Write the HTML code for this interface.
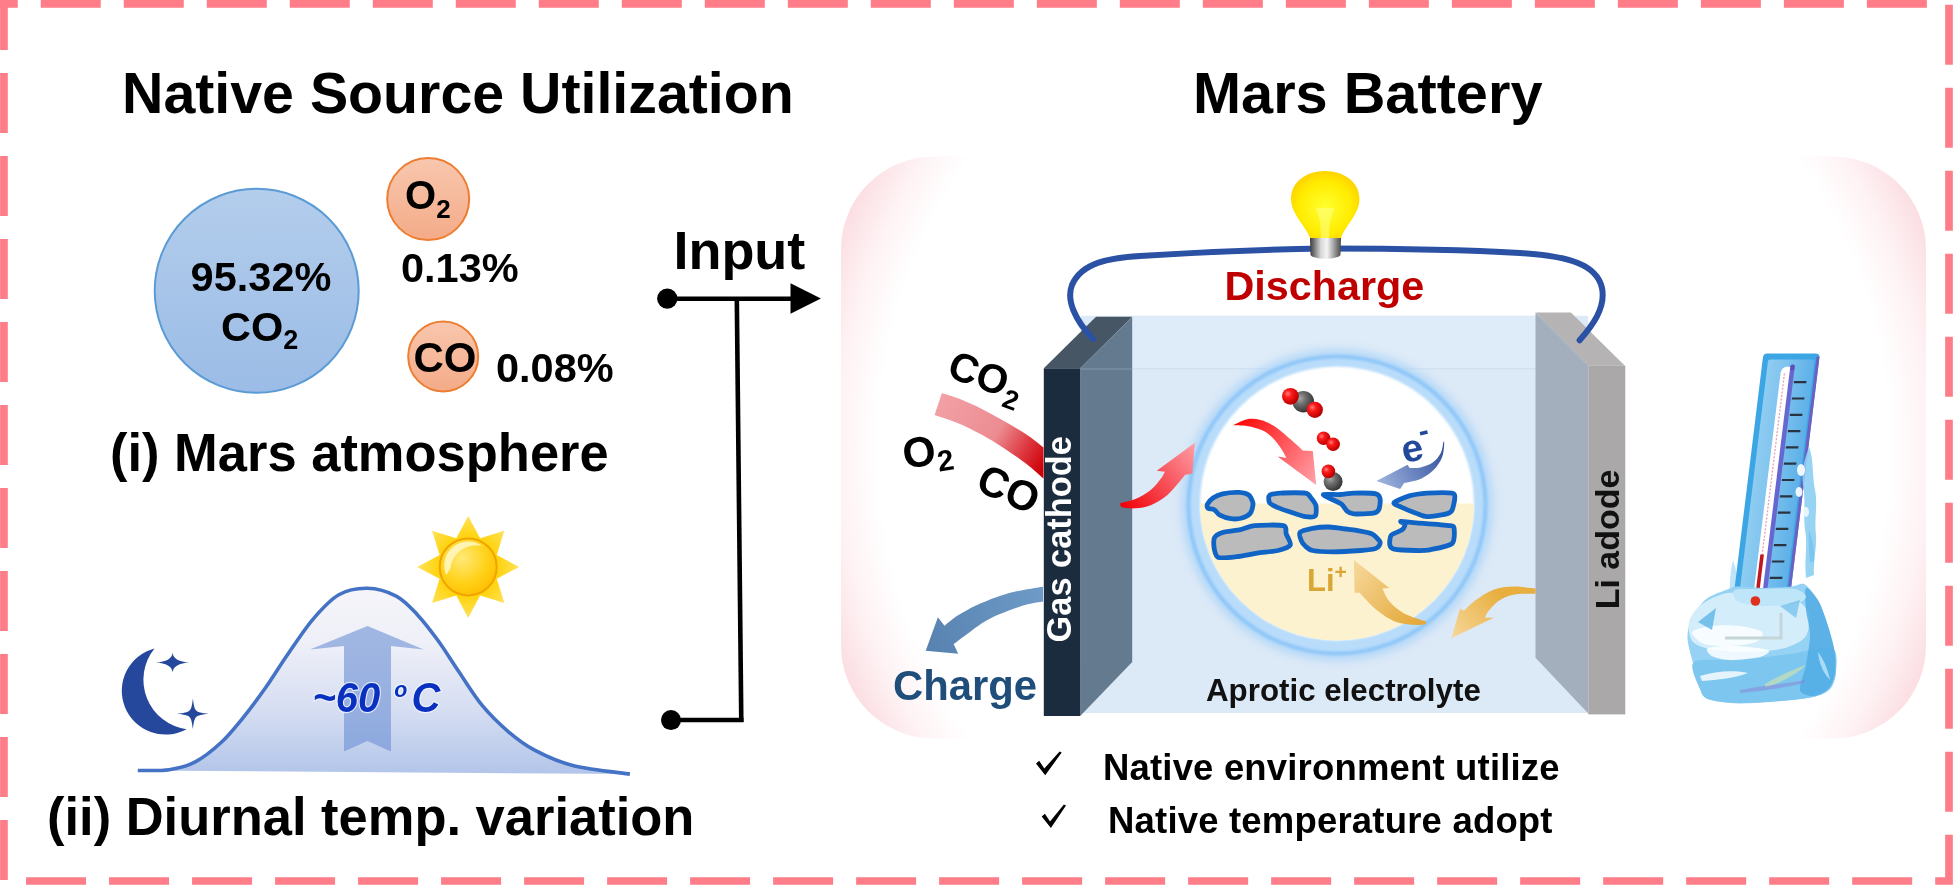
<!DOCTYPE html>
<html><head><meta charset="utf-8">
<style>
html,body{margin:0;padding:0;background:#fff;width:1954px;height:886px;overflow:hidden}
svg{display:block;will-change:transform}
text{font-family:"Liberation Sans",sans-serif;font-weight:bold}
</style></head>
<body>
<svg width="1954" height="886" viewBox="0 0 1954 886">
<defs>
  <linearGradient id="gBlue" x1="0" y1="0" x2="0" y2="1">
    <stop offset="0" stop-color="#B3CDEC"/><stop offset="1" stop-color="#9BBCE6"/>
  </linearGradient>
  <linearGradient id="gOr" x1="0" y1="0" x2="0" y2="1">
    <stop offset="0" stop-color="#F8C7AE"/><stop offset="1" stop-color="#F4AB88"/>
  </linearGradient>
  <linearGradient id="gBell" x1="0" y1="0" x2="0" y2="1">
    <stop offset="0" stop-color="#F6F5FA"/><stop offset="0.3" stop-color="#EEEFF8"/><stop offset="0.65" stop-color="#D6DEF2"/><stop offset="1" stop-color="#B2C5E9"/>
  </linearGradient>
  <filter id="blurPanel" x="-20%" y="-20%" width="140%" height="140%"><feGaussianBlur stdDeviation="22"/></filter>
  <clipPath id="panelClip"><rect x="841" y="156.5" width="1085" height="582" rx="95"/></clipPath>
  <radialGradient id="gSun" cx="0.4" cy="0.35" r="0.7">
    <stop offset="0" stop-color="#FFE978"/><stop offset="0.6" stop-color="#FFD21A"/><stop offset="1" stop-color="#FFBE00"/>
  </radialGradient>
  <radialGradient id="gRay" cx="0.5" cy="0.5" r="0.5">
    <stop offset="0.5" stop-color="#FFD000"/><stop offset="1" stop-color="#FFE25A"/>
  </radialGradient>
  <linearGradient id="gCO2band" x1="935" y1="400" x2="1045" y2="465" gradientUnits="userSpaceOnUse">
    <stop offset="0" stop-color="#F2A2A6"/><stop offset="0.55" stop-color="#EC8C92"/><stop offset="0.8" stop-color="#DE3840"/><stop offset="1" stop-color="#CC0006"/>
  </linearGradient>
  <linearGradient id="gRedArr" x1="0" y1="0" x2="1" y2="0">
    <stop offset="0" stop-color="#F00010"/><stop offset="1" stop-color="#FF9AA0"/>
  </linearGradient>
  <linearGradient id="gRedArr2" x1="1230" y1="425" x2="1316" y2="482" gradientUnits="userSpaceOnUse">
    <stop offset="0" stop-color="#FF0000"/><stop offset="1" stop-color="#FFA0A8"/>
  </linearGradient>
  <linearGradient id="gRedArr1" x1="1120" y1="505" x2="1196" y2="443" gradientUnits="userSpaceOnUse">
    <stop offset="0" stop-color="#F00008"/><stop offset="1" stop-color="#FFA0A8"/>
  </linearGradient>
  <linearGradient id="gBlueArr" x1="1444" y1="443" x2="1377" y2="481" gradientUnits="userSpaceOnUse">
    <stop offset="0" stop-color="#2F4E9C"/><stop offset="1" stop-color="#9FB4DE"/>
  </linearGradient>
  <linearGradient id="gCharge" x1="1043" y1="595" x2="925" y2="650" gradientUnits="userSpaceOnUse">
    <stop offset="0" stop-color="#6E9AC8"/><stop offset="1" stop-color="#5782B0"/>
  </linearGradient>
  <linearGradient id="gGold1" x1="1422" y1="618" x2="1357" y2="561" gradientUnits="userSpaceOnUse">
    <stop offset="0" stop-color="#E4A93A"/><stop offset="1" stop-color="#F6D79A"/>
  </linearGradient>
  <linearGradient id="gGold2" x1="1500" y1="593" x2="1451" y2="636" gradientUnits="userSpaceOnUse">
    <stop offset="0" stop-color="#E8AE3E"/><stop offset="1" stop-color="#F6D79A"/>
  </linearGradient>
  <radialGradient id="gRedBall" cx="0.35" cy="0.35" r="0.65">
    <stop offset="0" stop-color="#FF8080"/><stop offset="0.35" stop-color="#FF1A1A"/><stop offset="1" stop-color="#B80000"/>
  </radialGradient>
  <radialGradient id="gGreyBall" cx="0.35" cy="0.35" r="0.65">
    <stop offset="0" stop-color="#A8A8A8"/><stop offset="0.4" stop-color="#707070"/><stop offset="1" stop-color="#383838"/>
  </radialGradient>
  <radialGradient id="gBulb" cx="0.5" cy="0.55" r="0.55">
    <stop offset="0" stop-color="#FFFF30"/><stop offset="0.7" stop-color="#FFEC00"/><stop offset="1" stop-color="#FFD400"/>
  </radialGradient>
  <linearGradient id="gBase" x1="0" y1="0" x2="1" y2="0">
    <stop offset="0" stop-color="#3A3A3A"/><stop offset="0.35" stop-color="#D8D8D8"/><stop offset="0.55" stop-color="#F4F4F4"/><stop offset="1" stop-color="#4A4A4A"/>
  </linearGradient>
  <filter id="ringGlow" x="-20%" y="-20%" width="140%" height="140%"><feGaussianBlur stdDeviation="4"/></filter>
  <filter id="soft1" x="-20%" y="-20%" width="140%" height="140%"><feGaussianBlur stdDeviation="1"/></filter>
  <clipPath id="innerCirc"><circle cx="1337" cy="503.5" r="137"/></clipPath>
  <linearGradient id="gIce" x1="0" y1="0" x2="0" y2="1">
    <stop offset="0" stop-color="#B6E0F8"/><stop offset="0.5" stop-color="#A2D8F5"/><stop offset="1" stop-color="#7CC4EE"/>
  </linearGradient>
  <linearGradient id="gBoard" x1="0" y1="0" x2="1" y2="0">
    <stop offset="0" stop-color="#8FCCF1"/><stop offset="0.45" stop-color="#7CC2EE"/><stop offset="1" stop-color="#5DB0E8"/>
  </linearGradient>
  <radialGradient id="gPanel" gradientUnits="userSpaceOnUse" cx="1383.5" cy="447.5" r="620">
    <stop offset="0.815" stop-color="#FFFFFF"/><stop offset="0.88" stop-color="#FEF2F4"/><stop offset="0.935" stop-color="#FBE0E4"/><stop offset="1" stop-color="#F8CDD4"/>
  </radialGradient>
</defs>

<!-- dashed border -->
<rect x="3.95" y="3.85" width="1945.05" height="877.15" fill="none" stroke="#FF7D89" stroke-width="7.7" stroke-dasharray="60 23.006" stroke-dashoffset="46.2"/>
<rect x="0" y="0" width="8" height="8" fill="#FF7D89"/>

<!-- titles -->
<text x="122" y="113.3" font-size="57.3">Native Source Utilization</text>
<text x="1193" y="113.2" font-size="57.7">Mars Battery</text>

<!-- atmosphere circles -->
<circle cx="256.7" cy="290.8" r="102" fill="url(#gBlue)" stroke="#5B9BD5" stroke-width="2"/>
<text x="261" y="291.4" font-size="41.5" text-anchor="middle">95.32%</text>
<text x="221" y="341" font-size="41.5">CO<tspan font-size="27" dy="8">2</tspan></text>

<circle cx="428.2" cy="199.1" r="41" fill="url(#gOr)" stroke="#ED7D31" stroke-width="2"/>
<text x="405" y="209" font-size="40">O<tspan font-size="26" dy="9">2</tspan></text>
<text x="401" y="282.2" font-size="41.5">0.13%</text>

<circle cx="443.2" cy="356.4" r="35" fill="url(#gOr)" stroke="#ED7D31" stroke-width="2"/>
<text x="413.5" y="371.5" font-size="42">CO</text>
<text x="496" y="381.5" font-size="41.5">0.08%</text>

<text transform="translate(110,471.2) scale(1,1.035)" font-size="52.5">(i) Mars atmosphere</text>
<text transform="translate(47,835) scale(1,1.035)" font-size="52.5">(ii) Diurnal temp. variation</text>


<!-- diurnal chart -->
<path d="M137.8,770.5 C143.0,770.4 159.6,771.1 169.2,769.7 C178.8,768.3 186.6,766.5 195.3,761.9 C204.0,757.3 213.6,749.5 221.4,742.3 C229.2,735.1 234.8,727.9 242.2,718.8 C249.6,709.7 258.3,698.0 265.7,687.5 C273.1,677.0 278.8,667.4 286.6,656.1 C294.4,644.8 304.0,629.8 312.7,619.6 C321.4,609.4 329.7,600.0 338.8,594.8 C347.9,589.6 357.9,588.1 367.5,588.3 C377.1,588.5 387.9,591.8 396.2,596.1 C404.5,600.5 410.1,607.0 417.1,614.4 C424.1,621.8 431.0,630.9 438.0,640.5 C445.0,650.1 451.5,660.9 458.9,671.8 C466.3,682.7 474.1,695.7 482.4,705.7 C490.7,715.7 499.8,724.4 508.5,731.8 C517.2,739.2 523.7,744.4 534.6,750.1 C545.5,755.8 557.8,761.8 573.7,765.8 C589.6,769.8 620.5,772.7 629.9,774.1 Z" fill="url(#gBell)"/>
<path d="M137.8,770.5 C143.0,770.4 159.6,771.1 169.2,769.7 C178.8,768.3 186.6,766.5 195.3,761.9 C204.0,757.3 213.6,749.5 221.4,742.3 C229.2,735.1 234.8,727.9 242.2,718.8 C249.6,709.7 258.3,698.0 265.7,687.5 C273.1,677.0 278.8,667.4 286.6,656.1 C294.4,644.8 304.0,629.8 312.7,619.6 C321.4,609.4 329.7,600.0 338.8,594.8 C347.9,589.6 357.9,588.1 367.5,588.3 C377.1,588.5 387.9,591.8 396.2,596.1 C404.5,600.5 410.1,607.0 417.1,614.4 C424.1,621.8 431.0,630.9 438.0,640.5 C445.0,650.1 451.5,660.9 458.9,671.8 C466.3,682.7 474.1,695.7 482.4,705.7 C490.7,715.7 499.8,724.4 508.5,731.8 C517.2,739.2 523.7,744.4 534.6,750.1 C545.5,755.8 557.8,761.8 573.7,765.8 C589.6,769.8 620.5,772.7 629.9,774.1" fill="none" stroke="#4472C4" stroke-width="3.6"/>
<path d="M367.5,626 L423.7,649.5 L391,646 L391,751.4 L367.5,741 L344,751.4 L344,646 L310,649.5 Z" fill="#6B8FD4" fill-opacity="0.6"/>
<text transform="translate(312.5,711.5) scale(0.93,1)" font-size="43" font-style="italic" fill="#0A30C0" stroke="#F2F6FF" stroke-width="2.4" stroke-opacity="0.8" paint-order="stroke">~60 <tspan font-size="23" dy="-15" dx="3">o</tspan><tspan dy="15" dx="4.5">C</tspan></text>
<!-- moon & stars -->
<path d="M154.5,648.4 A43.8,43.8 0 1 0 186.6,729.2 A49.9,49.9 0 0 1 154.5,648.4 Z" fill="#26489C"/>
<path d="M172.60,652.70 Q173.50,661.60 189.80,662.50 Q173.50,663.40 172.60,672.30 Q171.70,663.40 155.40,662.50 Q171.70,661.60 172.60,652.70 Z" fill="#26489C"/>
<path d="M192.90,698.40 C194.70,711.90 194.70,711.90 208.90,713.70 C194.70,715.50 194.70,715.50 192.90,729.00 C191.10,715.50 191.10,715.50 176.90,713.70 C191.10,711.90 191.10,711.90 192.90,698.40 Z" fill="#26489C"/>
<!-- sun -->
<g transform="translate(468.2,566.9)">
  <path fill="url(#gRay)" d="M0.0,-51.0 L11.9,-28.6 L36.1,-36.1 L28.6,-11.9 L51.0,0.0 L28.6,11.9 L36.1,36.1 L11.9,28.6 L0.0,51.0 L-11.9,28.6 L-36.1,36.1 L-28.6,11.9 L-51.0,0.0 L-28.6,-11.9 L-36.1,-36.1 L-11.9,-28.6 Z"/>
  <circle r="28.5" fill="url(#gSun)" stroke="#F0A400" stroke-width="2"/>
  <path d="M-22,8 A24,24 0 0 1 14,-21 A26,26 0 0 0 -18,2 Z" fill="#FFF6C0" opacity="0.9"/>
</g>


<!-- right panel -->
<rect x="841" y="156.5" width="1085" height="582" rx="93" fill="url(#gPanel)"/>

<text x="1224.5" y="300" font-size="41.3" fill="#C00000">Discharge</text>

<!-- electrolyte box -->
<rect x="1081" y="315.8" width="507" height="397.2" fill="#DCE9F7"/>
<rect x="1132" y="315.8" width="404" height="53" fill="#DEEBF8"/>
<line x1="1132" y1="368.8" x2="1536" y2="368.8" stroke="#CCDDF0" stroke-width="1"/>

<!-- left electrode -->
<polygon points="1043.8,368.3 1080.2,368.3 1132.2,316.7 1096,316.7" fill="#475665"/>
<polygon points="1080.2,368.3 1132.2,316.7 1132.2,662 1080.2,716" fill="#647A8F"/>
<line x1="1080.2" y1="369" x2="1132.2" y2="369" stroke="#8298AC" stroke-width="1.2"/>
<rect x="1043.8" y="368.3" width="36.4" height="347.7" fill="#1B2C3E"/>
<text transform="translate(1071.3,642.5) rotate(-90)" font-size="34.4" fill="#fff">Gas cathode</text>

<!-- right electrode -->
<polygon points="1535.5,312.6 1570.9,312.6 1624.9,365.7 1588.3,365.7" fill="#B5B3B4"/>
<polygon points="1535.5,312.6 1588.3,365.7 1588.3,713.5 1535.5,657.7" fill="#A3AFBC"/>
<rect x="1588.3" y="365.7" width="37" height="348.7" fill="#AAA8A9"/>
<text transform="translate(1618.8,609.3) rotate(-90)" font-size="34" fill="#111">Li adode</text>
<!-- wire -->
<path d="M1093,339 C1075,320 1066,300 1072,285 C1082,262 1110,258 1140,256 C1200,252 1260,249.5 1325,248.5 C1400,248.5 1470,250 1520,253 C1570,256 1597,265 1602,288 C1606,308 1592,326 1579.6,340.3" fill="none" stroke="#2B51A4" stroke-width="6" stroke-linecap="round"/>

<!-- bulb -->
<path d="M1310,238 C1306,226 1291,214 1291,199 C1291,182 1306,171 1325,171 C1344,171 1359.5,182 1359.5,199 C1359.5,214 1345,226 1341,238 Z" fill="url(#gBulb)"/>
<path d="M1316,208 L1334,208 L1330,222 L1329,238 L1321,238 L1320,222 Z" fill="#FFFF80" opacity="0.6"/>
<path d="M1310,238 L1341,238 L1340.5,255 C1337,260 1314,260 1310.5,255 Z" fill="url(#gBase)"/>



<!-- zoom circle -->
<circle cx="1337" cy="505" r="156" fill="#B4D8F8" filter="url(#ringGlow)"/>
<circle cx="1337" cy="505" r="150.5" fill="#90C7F8" filter="url(#soft1)"/>
<circle cx="1337" cy="505" r="146.5" fill="#B8DCFA" filter="url(#soft1)"/>
<circle cx="1337" cy="503.5" r="137" fill="#fff" filter="url(#soft1)"/>
<rect x="1199" y="503.5" width="300" height="160" fill="#FDF2CF" clip-path="url(#innerCirc)"/>
<!-- inside circle content -->
<g fill="#BBBBBB" stroke="#1064C6" stroke-width="4.8" stroke-linejoin="round">
<path d="M1207.4,504.2 C1208.0,502.9 1211.1,499.3 1213.0,498.0 C1214.9,496.7 1219.3,494.5 1222.6,493.8 C1225.9,493.1 1235.9,492.2 1239.2,492.4 C1242.5,492.6 1247.2,493.8 1248.9,495.2 C1250.6,496.6 1252.8,501.2 1253.0,503.5 C1253.2,505.8 1251.7,511.4 1250.3,513.2 C1248.9,515.0 1244.4,517.3 1242.0,518.0 C1239.6,518.7 1233.7,519.1 1230.9,518.7 C1228.1,518.4 1222.0,516.3 1219.9,515.2 C1217.8,514.1 1215.8,510.6 1214.3,509.7 C1212.8,508.8 1209.0,509.0 1208.1,508.3 C1207.2,507.6 1206.8,505.5 1207.4,504.2 Z"/>
<path d="M1269.6,495.2 C1271.0,494.0 1276.2,493.4 1280.7,493.1 C1285.2,492.8 1301.7,492.5 1305.5,493.1 C1309.3,493.7 1309.8,496.4 1311.1,498.0 C1312.4,499.6 1315.4,503.4 1315.9,505.6 C1316.4,507.8 1316.5,514.5 1315.2,515.9 C1313.9,517.3 1308.4,517.0 1305.5,516.6 C1302.6,516.2 1295.2,513.6 1291.7,512.5 C1288.2,511.4 1280.7,508.8 1277.9,507.6 C1275.1,506.4 1270.6,504.4 1269.6,502.8 C1268.6,501.2 1268.2,496.4 1269.6,495.2 Z"/>
<path d="M1323.5,494.5 C1324.7,494.0 1336.3,494.7 1340.1,494.5 C1343.9,494.3 1349.4,493.2 1353.9,493.1 C1358.4,493.0 1372.7,493.0 1376.0,493.8 C1379.3,494.6 1379.9,497.3 1380.2,499.3 C1380.5,501.3 1379.7,508.0 1378.8,509.7 C1377.9,511.4 1376.4,512.7 1373.3,513.2 C1370.2,513.7 1357.2,514.2 1353.9,513.9 C1350.6,513.6 1348.5,512.3 1347.0,511.1 C1345.5,509.9 1343.6,505.8 1341.5,504.2 C1339.4,502.6 1332.7,499.9 1330.4,498.7 C1328.2,497.5 1322.3,495.0 1323.5,494.5 Z"/>
<path d="M1394.0,502.8 C1394.9,501.3 1405.1,497.1 1409.2,495.9 C1413.3,494.7 1421.8,493.5 1427.1,493.1 C1432.4,492.8 1448.5,492.5 1452.0,493.1 C1455.5,493.7 1454.8,495.8 1454.8,498.0 C1454.8,500.2 1453.0,508.4 1452.0,510.4 C1451.0,512.4 1449.6,513.1 1446.5,513.9 C1443.4,514.7 1430.9,516.7 1427.1,516.6 C1423.3,516.5 1419.2,514.3 1416.1,513.2 C1413.0,512.1 1405.1,508.9 1402.3,507.6 C1399.5,506.3 1393.1,504.3 1394.0,502.8 Z"/>
<path d="M1214.3,538.0 C1215.3,535.9 1219.3,533.5 1222.6,532.5 C1225.9,531.5 1236.6,530.6 1240.6,529.7 C1244.6,528.8 1249.1,526.1 1254.4,525.6 C1259.8,525.1 1279.4,524.6 1283.4,525.6 C1287.4,526.6 1285.3,531.5 1286.2,533.9 C1287.1,536.3 1291.3,542.8 1290.3,544.9 C1289.3,547.0 1282.0,549.5 1277.9,550.5 C1273.8,551.5 1262.4,552.4 1257.2,553.2 C1252.0,554.0 1241.3,556.2 1236.5,556.7 C1231.7,557.2 1221.3,558.4 1218.5,557.4 C1215.7,556.4 1214.8,551.5 1214.3,549.1 C1213.8,546.7 1213.3,540.1 1214.3,538.0 Z"/>
<path d="M1300.0,532.5 C1301.4,531.0 1308.9,529.1 1312.5,528.4 C1316.1,527.7 1324.7,526.9 1329.0,527.0 C1333.3,527.1 1343.5,528.7 1347.0,529.1 C1350.5,529.5 1353.6,529.8 1356.7,530.4 C1359.8,531.0 1369.0,532.4 1371.9,533.9 C1374.8,535.4 1379.7,540.4 1380.2,542.2 C1380.7,544.0 1378.4,547.4 1376.0,548.4 C1373.6,549.4 1366.1,550.1 1360.8,550.5 C1355.5,550.9 1339.2,551.9 1333.2,551.9 C1327.2,551.9 1316.0,551.2 1312.5,550.5 C1309.0,549.8 1306.9,547.5 1305.5,546.3 C1304.1,545.1 1302.1,542.5 1301.4,540.8 C1300.7,539.1 1298.6,534.0 1300.0,532.5 Z"/>
<path d="M1400.9,521.5 C1399.5,521.7 1404.8,523.2 1405.0,524.2 C1405.2,525.2 1404.0,528.3 1402.3,529.7 C1400.6,531.1 1392.8,533.4 1391.2,535.3 C1389.6,537.2 1389.5,543.2 1389.8,544.9 C1390.1,546.6 1390.7,548.4 1394.0,549.1 C1397.3,549.8 1411.6,550.4 1416.1,550.5 C1420.6,550.6 1425.4,550.7 1429.9,549.8 C1434.4,548.9 1449.0,546.3 1452.0,543.6 C1455.0,540.9 1454.4,530.6 1454.1,528.4 C1453.8,526.1 1454.0,526.3 1449.2,525.6 C1444.5,524.9 1422.1,523.3 1416.1,522.8 C1410.1,522.3 1402.3,521.3 1400.9,521.5 Z"/>
</g>
<path d="M1232.9,425.4 C1235.3,424.4 1242.5,420.2 1247.1,419.3 C1251.7,418.4 1256.1,418.9 1260.6,420.0 C1265.1,421.1 1269.7,423.3 1274.2,426.1 C1278.7,428.9 1283.6,433.5 1287.7,436.9 C1291.8,440.3 1296.1,444.1 1298.6,446.4 C1301.1,448.6 1301.9,449.7 1302.6,450.4 L1312.8,451.1 L1316.2,485.0 L1277.6,456.5 L1286.4,457.9 L1286.4,457.9 C1285.7,456.6 1284.3,453.4 1282.3,450.4 C1280.3,447.3 1277.1,442.8 1274.2,439.6 C1271.3,436.5 1268.5,433.6 1264.7,431.5 C1260.9,429.4 1255.3,427.7 1251.2,426.7 C1247.1,425.7 1243.3,425.6 1240.3,425.4 C1237.2,425.2 1234.1,425.4 1232.9,425.4 Z" fill="url(#gRedArr2)"/>
<path d="M1443.5,441.6 C1443.0,443.5 1442.6,449.6 1440.8,453.1 C1439.0,456.6 1436.1,460.2 1432.7,462.6 C1429.3,465.0 1424.3,466.5 1420.5,467.4 C1416.7,468.3 1411.4,467.9 1409.6,468.0 L1407.6,464.7 L1376.4,480.9 L1400.1,489.0 L1404.2,482.9 L1404.2,482.9 C1406.9,482.2 1415.5,481.1 1420.5,478.9 C1425.5,476.6 1430.4,473.0 1434.0,469.4 C1437.6,465.8 1440.4,461.5 1442.1,457.2 C1443.8,452.9 1444.0,446.3 1444.2,443.7 C1444.4,441.1 1443.6,442.0 1443.5,441.6 Z" fill="url(#gBlueArr)"/>
<path d="M1353.9,559.9 L1389.3,587.9 L1382.5,588.5 L1382.5,588.5 C1383.4,590.4 1385.7,596.4 1388.1,599.7 C1390.5,603.0 1393.3,605.7 1396.8,608.4 C1400.3,611.1 1404.3,613.6 1409.2,615.8 C1414.1,618.0 1423.2,620.5 1426.0,621.4 L1426.0,621.4 C1425.7,621.9 1426.9,624.0 1424.1,624.5 C1421.3,625.0 1414.4,625.1 1409.2,624.5 C1404.0,623.9 1398.1,622.9 1393.1,620.8 C1388.1,618.7 1383.3,615.0 1379.4,612.1 C1375.5,609.2 1372.8,606.6 1369.5,603.4 C1366.2,600.2 1361.2,594.6 1359.5,592.8 L1354.6,592.8 Z" fill="url(#gGold1)"/>
<!-- molecules -->
<circle cx="1303.3" cy="401.7" r="10.8" fill="url(#gGreyBall)"/>
<circle cx="1290.4" cy="396.3" r="8.4" fill="url(#gRedBall)"/>
<circle cx="1314.8" cy="409.8" r="8.1" fill="url(#gRedBall)"/>
<circle cx="1323.6" cy="438.2" r="6.8" fill="url(#gRedBall)"/>
<circle cx="1333.1" cy="444.3" r="6.8" fill="url(#gRedBall)"/>
<circle cx="1333.1" cy="481.6" r="9.5" fill="url(#gGreyBall)"/>
<circle cx="1328.4" cy="471.4" r="6.8" fill="url(#gRedBall)"/>
<text transform="translate(1404.3,463.3) rotate(-12)" font-size="38.5" fill="#22489A">e<tspan font-size="30" dy="-18" dx="-1">-</tspan></text>
<text x="1307" y="591" font-size="31" fill="#D9A535">Li<tspan font-size="21" dy="-12">+</tspan></text>

<path d="M1451.4,638.2 L1460.1,608.4 L1463.8,610.8 L1463.8,610.8 C1465.9,608.9 1471.2,603.2 1476.2,599.7 C1481.2,596.2 1487.4,591.9 1493.6,589.7 C1499.8,587.5 1506.5,586.8 1513.5,586.6 C1520.5,586.4 1531.8,588.2 1535.5,588.5 L1535.5,593.8 L1535.5,593.8 C1531.8,593.9 1519.7,593.5 1513.5,594.7 C1507.3,595.9 1502.7,598.2 1498.6,600.9 C1494.5,603.6 1491.0,608.0 1488.7,610.8 C1486.4,613.6 1485.5,616.6 1484.9,617.7 L1493.6,617.7 Z" fill="url(#gGold2)"/>
<path d="M1120.2,503.2 C1122.7,502.5 1130.3,501.3 1135.4,499.1 C1140.5,496.9 1146.5,493.4 1150.7,490.0 C1154.9,486.6 1158.4,481.9 1160.8,478.8 C1163.2,475.8 1164.2,472.9 1164.9,471.7 L1156.7,470.7 L1194.9,442.7 L1192.3,473.7 L1185.2,474.7 L1185.2,474.7 C1183.5,476.7 1178.4,483.2 1175.0,486.9 C1171.6,490.6 1169.0,494.1 1164.9,497.1 C1160.9,500.2 1155.6,503.3 1150.7,505.2 C1145.8,507.1 1140.2,508.0 1135.4,508.3 C1130.7,508.6 1124.7,508.1 1122.2,507.2 C1119.7,506.3 1120.5,503.9 1120.2,503.2 Z" fill="url(#gRedArr1)"/>
<text x="1206" y="700.5" font-size="31.3" fill="#111">Aprotic electrolyte</text>

<!-- left of battery -->
<path d="M941.9,392.9 L941.9,392.9 C944.7,393.8 952.2,395.9 958.8,398.5 C965.4,401.1 973.9,404.9 981.4,408.7 C988.9,412.5 996.5,416.8 1004.0,421.1 C1011.5,425.4 1019.9,430.2 1026.5,434.6 C1033.1,439.0 1040.7,445.4 1043.5,447.6 L1043.5,478.6 L1043.5,478.6 C1040.7,476.2 1033.1,469.1 1026.5,464.0 C1019.9,458.9 1011.5,453.1 1004.0,448.2 C996.5,443.3 988.9,438.7 981.4,434.6 C973.9,430.5 966.6,426.7 958.8,423.4 C951.0,420.1 938.6,416.3 934.6,414.9 Z" fill="url(#gCO2band)"/>
<path d="M1043.0,586.7 C1038.6,587.5 1024.4,589.5 1016.6,591.3 C1008.8,593.1 1003.1,594.9 996.3,597.3 C989.5,599.7 982.4,602.5 976.0,605.5 C969.6,608.5 963.0,612.2 957.7,615.6 C952.5,619.0 946.7,624.1 944.5,625.8 L937.9,617.2 L925.7,650.7 L958.2,653.7 L953.6,644.1 L953.6,644.1 C955.6,642.6 960.4,638.8 965.8,634.9 C971.2,631.0 979.3,624.6 986.1,620.7 C992.9,616.8 999.6,614.3 1006.4,611.6 C1013.2,608.9 1020.6,606.2 1026.7,604.5 C1032.8,602.8 1040.3,601.9 1043.0,601.4 Z" fill="url(#gCharge)"/>
<text x="893" y="700" font-size="41.8" fill="#1F4E7A">Charge</text>
<text transform="translate(945.5,376.3) rotate(20)" font-size="40.5">CO<tspan font-size="27" dy="9" dx="1">2</tspan></text>
<text transform="translate(905,469) rotate(-9)" font-size="42.5">O<tspan font-size="29.5" dy="8" dx="0">2</tspan></text>
<text transform="translate(974,489.5) rotate(24)" font-size="42">CO</text>



<!-- thermometer -->
<path d="M1733,560 C1738,575 1740,588 1742,600 L1730,600 C1729,588 1730,572 1733,560 Z" fill="#B4DFF7" opacity="0.85"/>
<g transform="translate(1763.4,353.4) skewX(-7)">
  <rect x="0" y="0" width="56.5" height="250" rx="4" fill="#3CA6E4"/>
  <rect x="53.5" y="3" width="3" height="247" fill="#6E5FC2"/>
  <rect x="5.5" y="6" width="46.5" height="244" rx="2" fill="url(#gBoard)"/>
  <rect x="19.6" y="13" width="12.4" height="237" rx="6.2" fill="#FFFFFF"/>
  <rect x="28.5" y="15" width="4.5" height="235" fill="#6767D0"/><rect x="28.5" y="11" width="4.5" height="6" rx="2" fill="#5A4FB8"/>
  <line x1="23.5" y1="20" x2="23.5" y2="245" stroke="#E4A0B4" stroke-width="1.3" stroke-dasharray="2 1.6"/>
  <rect x="34" y="27.7" width="12.5" height="2.2" fill="#2A3340"/><rect x="34" y="44.0" width="12.5" height="2.2" fill="#2A3340"/><rect x="34" y="60.3" width="12.5" height="2.2" fill="#2A3340"/><rect x="34" y="76.6" width="12.5" height="2.2" fill="#2A3340"/><rect x="34" y="92.9" width="12.5" height="2.2" fill="#2A3340"/><rect x="34" y="109.2" width="12.5" height="2.2" fill="#2A3340"/><rect x="34" y="125.5" width="12.5" height="2.2" fill="#2A3340"/><rect x="34" y="141.8" width="12.5" height="2.2" fill="#2A3340"/><rect x="34" y="158.1" width="12.5" height="2.2" fill="#2A3340"/><rect x="34" y="174.4" width="12.5" height="2.2" fill="#2A3340"/><rect x="34" y="190.7" width="12.5" height="2.2" fill="#2A3340"/><rect x="34" y="207.0" width="12.5" height="2.2" fill="#2A3340"/><rect x="34" y="223.3" width="12.5" height="2.2" fill="#2A3340"/><rect x="34" y="239.6" width="12.5" height="2.2" fill="#2A3340"/>
  <rect x="21.6" y="201" width="3.6" height="46" fill="#BE1820"/>
</g>
<!-- ice drips right of board -->
<path d="M1809,447 C1814,460 1812,475 1815,490 C1818,505 1814,520 1816,535 C1817,548 1813,560 1814,575 L1806,578 C1804,560 1808,545 1805,530 C1803,515 1806,500 1803,485 C1801,470 1805,458 1809,447 Z" fill="#8CCFF3" opacity="0.9"/>
<ellipse cx="1801" cy="470" rx="4" ry="6" fill="#FFFFFF" opacity="0.9"/>
<ellipse cx="1799" cy="492" rx="3.5" ry="5" fill="#FFFFFF" opacity="0.9"/>
<ellipse cx="1806" cy="512" rx="3" ry="5" fill="#F0FAFF" opacity="0.9"/>
<path d="M1809,530 C1813,540 1815,550 1814,562 L1810,562 C1809,552 1808,540 1809,530 Z" fill="#7CC6F0"/>
<!-- ice block -->
<path d="M1691.7,617.7 C1694.4,612.0 1701.2,602.9 1706.3,598.9 C1711.4,594.9 1722.7,591.3 1727.2,589.5 C1731.7,587.7 1732.3,586.6 1737.7,586.4 C1743.1,586.2 1757.2,588.0 1765.0,588.0 C1772.8,588.0 1786.4,586.9 1792.0,586.4 C1797.6,585.9 1800.9,582.5 1804.5,584.3 C1808.1,586.1 1814.0,594.1 1817.0,598.9 C1820.0,603.7 1823.0,610.8 1825.4,617.7 C1827.8,624.6 1832.2,639.2 1833.7,647.0 C1835.2,654.8 1836.4,666.0 1835.8,672.0 C1835.2,678.0 1832.9,685.1 1829.6,688.7 C1826.3,692.3 1820.0,695.3 1812.8,697.1 C1805.6,698.9 1790.1,700.4 1779.4,701.3 C1768.7,702.2 1747.8,703.7 1737.7,703.4 C1727.6,703.1 1713.8,701.3 1708.4,699.2 C1703.0,697.1 1702.2,693.5 1700.1,688.7 C1698.0,683.9 1695.6,673.0 1693.8,665.8 C1692.0,658.6 1687.8,645.5 1687.5,638.6 C1687.2,631.7 1689.0,623.4 1691.7,617.7 Z" fill="#96D2F3"/>
<path d="M1689.0,622.0 C1690.3,616.6 1696.4,608.1 1702.0,604.0 C1707.6,599.9 1719.7,594.1 1728.0,593.0 C1736.3,591.9 1750.9,595.3 1760.0,596.0 C1769.1,596.7 1785.1,595.7 1792.0,598.0 C1798.9,600.3 1806.0,606.6 1808.0,612.0 C1810.0,617.4 1809.3,630.9 1806.0,636.0 C1802.7,641.1 1793.0,645.7 1785.0,648.0 C1777.0,650.3 1760.0,651.7 1750.0,652.0 C1740.0,652.3 1723.1,651.4 1715.0,650.0 C1706.9,648.6 1696.7,646.0 1693.0,642.0 C1689.3,638.0 1687.7,627.4 1689.0,622.0 Z" fill="#D3EDFB"/>
<path d="M1694.0,662.0 C1699.7,657.9 1726.3,661.1 1740.0,660.0 C1753.7,658.9 1776.9,655.7 1790.0,654.0 C1803.1,652.3 1825.4,645.4 1832.0,648.0 C1838.6,650.6 1836.3,666.1 1836.0,672.0 C1835.7,677.9 1833.3,685.4 1830.0,689.0 C1826.7,692.6 1820.3,695.3 1813.0,697.0 C1805.7,698.7 1789.7,700.1 1779.0,701.0 C1768.3,701.9 1748.1,703.3 1738.0,703.0 C1727.9,702.7 1713.4,701.0 1708.0,699.0 C1702.6,697.0 1702.0,694.3 1700.0,689.0 C1698.0,683.7 1688.3,666.1 1694.0,662.0 Z" fill="#7DC6EF"/>
<path d="M1806.0,588.0 C1807.7,586.6 1815.1,595.4 1818.0,600.0 C1820.9,604.6 1823.7,613.1 1826.0,620.0 C1828.3,626.9 1832.7,640.6 1834.0,648.0 C1835.3,655.4 1835.7,666.3 1835.0,672.0 C1834.3,677.7 1832.0,684.6 1829.0,688.0 C1826.0,691.4 1818.1,695.7 1814.0,696.0 C1809.9,696.3 1801.1,694.4 1800.0,690.0 C1798.9,685.6 1804.6,672.9 1806.0,665.0 C1807.4,657.1 1810.0,642.9 1810.0,635.0 C1810.0,627.1 1806.6,616.7 1806.0,610.0 C1805.4,603.3 1804.3,589.4 1806.0,588.0 Z" fill="#4DAAE4" opacity="0.8"/>
<path d="M1735.0,590.0 C1738.3,588.3 1751.4,589.1 1760.0,589.0 C1768.6,588.9 1788.4,587.9 1795.0,589.0 C1801.6,590.1 1806.0,594.9 1806.0,597.0 C1806.0,599.1 1801.6,602.7 1795.0,604.0 C1788.4,605.3 1768.3,606.4 1760.0,606.0 C1751.7,605.6 1740.6,603.3 1737.0,601.0 C1733.4,598.7 1731.7,591.7 1735.0,590.0 Z" fill="#BFE5F9"/>
<path d="M1692.0,632.0 C1693.1,629.4 1705.1,626.9 1712.0,626.0 C1718.9,625.1 1732.9,625.1 1740.0,626.0 C1747.1,626.9 1759.7,629.7 1762.0,632.0 C1764.3,634.3 1760.6,640.0 1756.0,642.0 C1751.4,644.0 1737.4,645.7 1730.0,646.0 C1722.6,646.3 1709.4,646.0 1704.0,644.0 C1698.6,642.0 1690.9,634.6 1692.0,632.0 Z" fill="#F6FCFF"/>
<path d="M1708.0,648.0 C1711.3,646.6 1726.4,645.7 1735.0,646.0 C1743.6,646.3 1764.4,648.4 1768.0,650.0 C1771.6,651.6 1765.4,655.6 1760.0,657.0 C1754.6,658.4 1736.9,660.1 1730.0,660.0 C1723.1,659.9 1715.1,657.7 1712.0,656.0 C1708.9,654.3 1704.7,649.4 1708.0,648.0 Z" fill="#FFFFFF" opacity="0.85"/>
<path d="M1698,622 L1716,608 L1712,630 Z" fill="#5EB5E8" opacity="0.8"/>
<path d="M1780,606 L1800,600 L1796,618 Z" fill="#6DBDEB" opacity="0.7"/>
<path d="M1725,636.5 L1779.5,636.5 L1779.5,613 L1782.5,613 L1782.5,639.5 L1725,639.5 Z" fill="#C6D6D8"/>
<path d="M1700,676 C1715,671 1735,670 1748,673 C1735,678 1718,680 1702,681 Z" fill="#FFFFFF" opacity="0.8"/>
<path d="M1765,684 C1778,676 1792,670 1806,665 C1796,675 1782,682 1765,688 Z" fill="#D6E6A8" opacity="0.6"/>
<path d="M1740,690 C1760,686 1785,684 1805,680 L1804,683 C1785,688 1760,691 1740,693 Z" fill="#8C7FD8" opacity="0.5"/>
<path d="M1818,652 C1824,660 1828,670 1830,680 C1824,674 1819,664 1818,652 Z" fill="#BDE6FA" opacity="0.8"/>
<circle cx="1755.4" cy="601" r="4.8" fill="#E0311F"/>
<!-- check list -->
<path d="M1036,763.5 L1039.2,760.8 L1044.3,768.6 L1059.6,751.4 L1061.7,752.6 L1045.2,775.2 Z"/>
<path d="M1041.7,816.5 L1044.9,813.8 L1050,821.6 L1063.9,804.4 L1066,805.6 L1050.9,828 Z"/>
<text x="1103" y="780.2" font-size="36.5" letter-spacing="0.17">Native environment utilize</text>
<text x="1108" y="833.2" font-size="36.5" letter-spacing="0.19">Native temperature adopt</text>

<!-- input connector -->
<g stroke="#000" stroke-width="4.6" fill="none">
  <line x1="667" y1="298.7" x2="792" y2="298.7"/>
  <line x1="736.8" y1="298" x2="741.3" y2="722"/>
  <line x1="671" y1="720" x2="743.5" y2="720"/>
</g>
<circle cx="667.3" cy="298.6" r="10.2"/>
<circle cx="671" cy="720.1" r="10"/>
<path d="M790.5 283.3 L820.9 298.6 L790.5 313.7 Z"/>
<text x="673.4" y="269.1" font-size="54">Input</text>

</svg>
</body></html>
